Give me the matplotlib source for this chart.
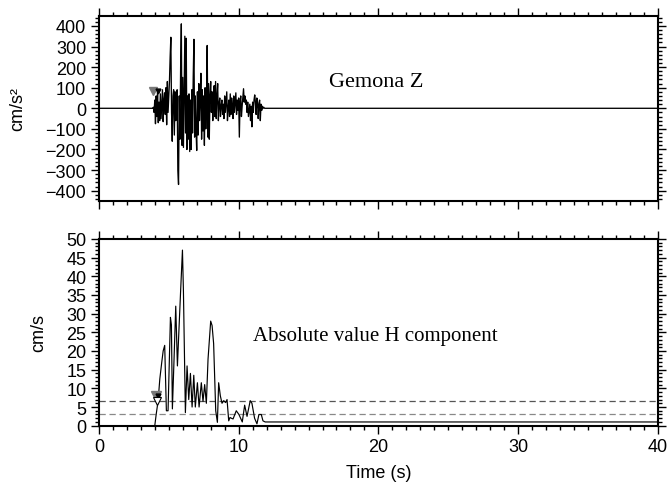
import numpy as np
import matplotlib
matplotlib.use('Agg')
import matplotlib.pyplot as plt
from matplotlib.ticker import MultipleLocator

plt.rcParams['font.family'] = ['Liberation Sans', 'DejaVu Sans']

# vertical acceleration, Gemona Z (cm/s^2), sampled every 0.05 s from 3.85 s to 11.90 s
acc_t0 = 3.85
acc_dt = 0.05
acc = [0, 5, -20, 40,
       -75, 60, -40, 80, -70, 30, -60, 70, -50, 20,
       90, -65, 40, 75, -30, 100, -80, 130, -20, 60,
       130, 250, 345, -20, -160, 60, 90, -130, 80, -60,
       -40, 90, -300, -370, 60, -150, 200, 410, -180, 150,
       -190, 100, 350, -120, 340, -200, 60, -150, 70, -210,
       40, -200, 90, -120, 150, 335, -140, 60, -100, -205,
       80, -130, 120, -60, 40, 170, -150, 90, -110, 60,
       -180, 100, -100, 30, 305, -140, 120, -150, 60, 130,
       -20, 80, -60, 40, 110, -40, 130, -50, 60, 120,
       -60, 20, 50, -40, 10, 40, -30, 20, -50, 60,
       -20, 30, 80, -60, 0, 40, -40, 70, -30, 50,
       10, -50, 60, -20, 30, 75, -30, 40, -10, 50,
       -140, 30, 60, -40, 10, 50, 95, 30, 60, 20,
       40, -20, 30, -40, -10, 20, -60, 10, -90, 30,
       -20, 40, 65, 30, -30, 50, 30, -50, 20, 40,
       -60, 20, -10, 10, 0, 5, 0, 0]

# absolute value of horizontal velocity (cm/s)
vel_t = [0, 4.0, 4.1, 4.24, 4.36, 4.5, 4.6, 4.71, 4.83, 4.95, 5.12, 5.19, 5.26,
         5.38, 5.5, 5.62, 5.71, 5.86, 5.98, 6.05, 6.19, 6.31, 6.43, 6.55, 6.67,
         6.79, 6.9, 7.05, 7.17, 7.33, 7.45, 7.57, 7.69, 7.81, 8.0, 8.1, 8.21,
         8.36, 8.48, 8.57, 8.69, 8.81, 8.93, 9.07, 9.17, 9.29, 9.38, 9.48, 9.6,
         9.83, 10.02, 10.26, 10.43, 10.6, 10.83, 10.95, 11.14, 11.31, 11.45,
         11.62, 11.74, 11.9, 40]
vel = [0, 0, 3, 6.7, 12.5, 17, 20, 21.5, 4, 4, 29, 27, 4.5,
       18, 32, 16, 24, 37, 47, 36, 3.5, 16, 7, 14, 5,
       13.5, 5, 11.5, 5, 11.5, 6.5, 11, 6, 17.8, 28, 26.8, 22,
       4, 0.9, 11.5, 8, 6, 6.7, 6.2, 7, 1.3, 2.2, 2, 1.8,
       4, 3, 1, 5.5, 2.5, 6.7, 6, 2, 0.5, 3,
       3, 1.3, 1.0, 1.0]

thresh_hi = 6.7
thresh_lo = 3.2

acc_time = np.round(acc_t0 + acc_dt * np.arange(len(acc)), 2)
acc_time = np.concatenate([[0], acc_time, [40]])
acc_vals = np.concatenate([[0], acc, [0]])

fig = plt.figure(figsize=(6.68, 4.89), dpi=100)
ax1 = fig.add_axes([0.148, 0.587, 0.837, 0.379])
ax2 = fig.add_axes([0.148, 0.1274, 0.837, 0.382])

ax1.plot(acc_time, acc_vals, color='black', lw=0.95)
ax1.plot([3.9], [85], marker='v', color='#777777', ms=6, ls='none')
ax1.plot([4.25], [82], marker='v', color='black', ms=3.5, ls='none')
ax1.set_xlim(0, 40)
ax1.set_ylim(-450, 450)
ax1.yaxis.set_major_locator(MultipleLocator(100))
ax1.yaxis.set_minor_locator(MultipleLocator(20))
ax1.set_ylabel('cm/s²', fontsize=13, labelpad=14)
ax1.text(16.5, 110, 'Gemona Z', family='Liberation Serif', fontsize=16, va='baseline')
ax1.tick_params(labelbottom=False)

ax2.axhline(thresh_hi, color='#555555', lw=0.9, ls=(0, (5, 3)))
ax2.axhline(thresh_lo, color='#888888', lw=0.9, ls=(0, (5, 3)))
ax2.plot(vel_t, vel, color='black', lw=0.85)
ax2.plot([4.07], [8.0], marker='v', color='#777777', ms=7, ls='none')
ax2.plot([4.26], [8.0], marker='v', color='black', ms=3.5, ls='none')
ax2.plot([4.17], [6.7], marker='v', mfc='white', mec='black', mew=0.8, ms=6, ls='none')
ax2.set_xlim(0, 40)
ax2.set_ylim(0, 50)
ax2.yaxis.set_major_locator(MultipleLocator(5))
ax2.yaxis.set_minor_locator(MultipleLocator(1))
ax2.set_ylabel('cm/s', fontsize=13, labelpad=14)
ax2.set_xlabel('Time (s)', fontsize=13, labelpad=6)
ax2.text(11.0, 23, 'Absolute value H component', family='Liberation Serif', fontsize=15, va='baseline')

for ax in (ax1, ax2):
    ax.xaxis.set_major_locator(MultipleLocator(10))
    ax.xaxis.set_minor_locator(MultipleLocator(1))
    ax.tick_params(which='both', direction='out', top=True, right=True, labelsize=13, width=1.0)
    ax.tick_params(which='major', length=6, pad=3)
    ax.tick_params(which='minor', length=3)
    for s in ax.spines.values():
        s.set_linewidth(1.5)

fig.savefig('out.png', dpi=100)
